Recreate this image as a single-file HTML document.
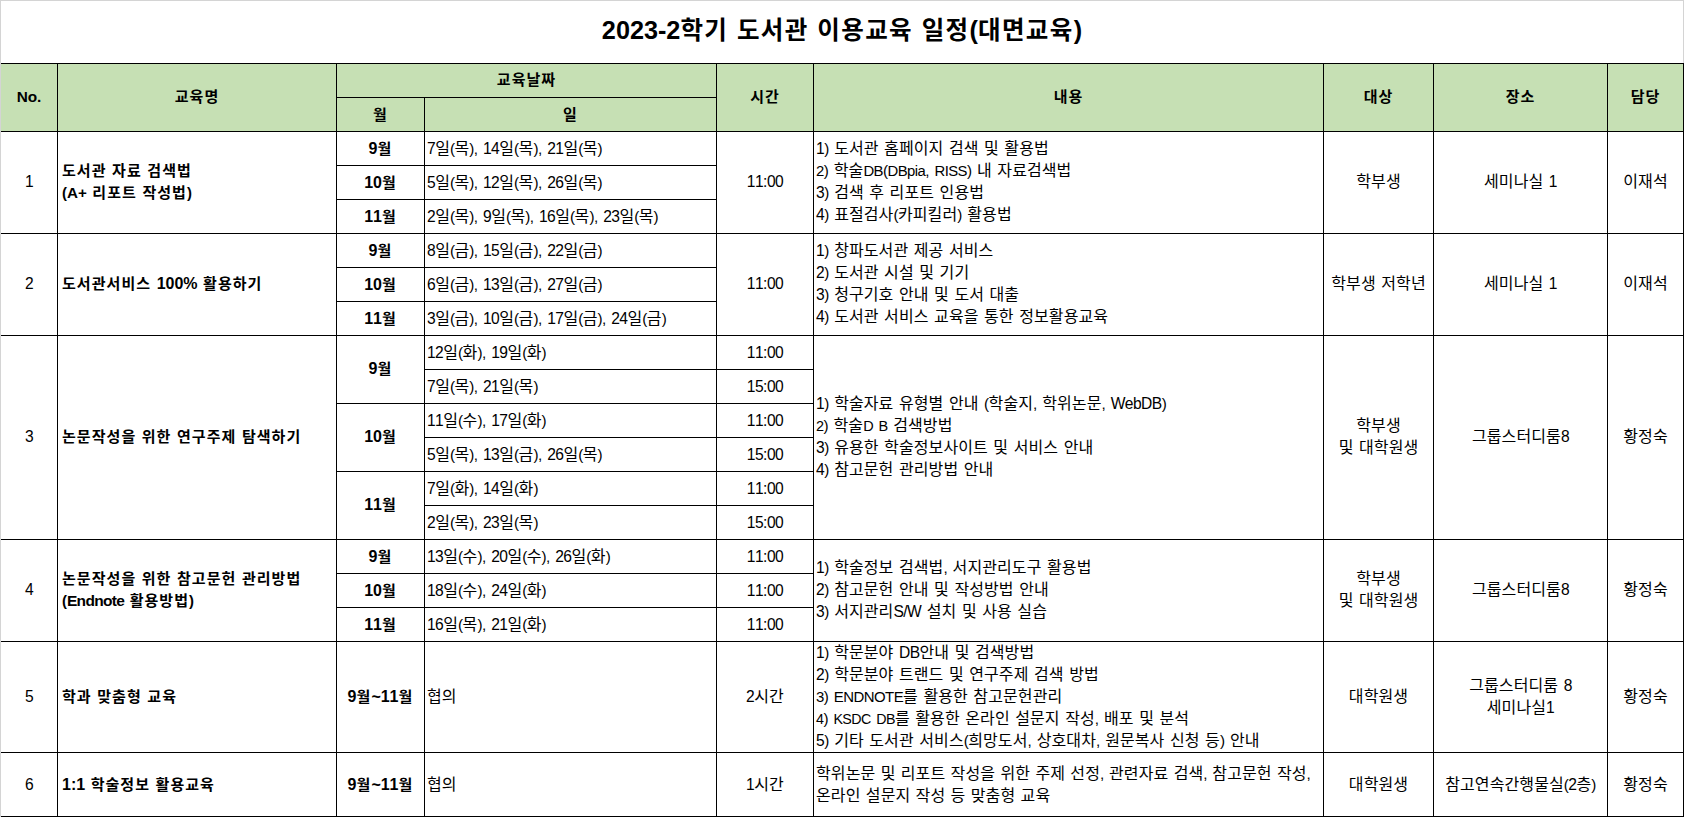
<!DOCTYPE html>
<html lang="ko">
<head>
<meta charset="utf-8">
<title>2023-2학기 도서관 이용교육 일정(대면교육)</title>
<style>
html,body{margin:0;padding:0;background:#fff;}
body{width:1684px;height:817px;position:relative;overflow:hidden;
 font-family:"Liberation Sans","Noto Sans CJK KR",sans-serif;color:#000;font-size:16px;line-height:22px;font-kerning:none;letter-spacing:0.1px;}
.l{position:absolute;background:#000;}
.g{position:absolute;background:#d4d4d4;}
.hd{position:absolute;background:#c6e0b4;}
.c{position:absolute;display:flex;align-items:center;justify-content:center;text-align:center;white-space:nowrap;box-sizing:border-box;}
.c.lf{justify-content:flex-start;text-align:left;padding-left:4px;}
.b{font-weight:bold;font-size:15px;letter-spacing:1.05px;--ws:0.3px;}
.n{font-size:calc(var(--n,0.975)*1em);letter-spacing:var(--ls,-0.55px);line-height:0;}
.p{font-size:calc(var(--p,0.95)*1em);letter-spacing:var(--pls,-0.55px);line-height:0;}
.b{--n:1.067;--p:0.99;--ls:0;--pls:0;}
.t{--n:1.03;--p:1.03;--ls:0;--pls:0;}
span{word-spacing:var(--ws,0.06em);}
.t{position:absolute;left:0;width:1684px;top:0;height:61px;display:flex;align-items:center;justify-content:center;
 font-weight:bold;font-size:24.5px;line-height:30px;white-space:nowrap;letter-spacing:1.4px;--ws:0.4px;}
</style>
</head>
<body>
<div class="hd" style="left:1px;top:64px;width:1682px;height:67px"></div>
<div class="t" aria-label="2023-2학기 도서관 이용교육 일정(대면교육)"><span><span class="n">2023-2</span>학기 도서관 이용교육 일정<span class="p">(</span>대면교육<span class="p">)</span></span></div>
<div class="l" style="left:1px;top:63px;width:1683px;height:1px"></div>
<div class="l" style="left:1px;top:131px;width:1683px;height:1px"></div>
<div class="l" style="left:1px;top:233px;width:1683px;height:1px"></div>
<div class="l" style="left:1px;top:335px;width:1683px;height:1px"></div>
<div class="l" style="left:1px;top:539px;width:1683px;height:1px"></div>
<div class="l" style="left:1px;top:641px;width:1683px;height:1px"></div>
<div class="l" style="left:1px;top:752px;width:1683px;height:1px"></div>
<div class="l" style="left:1px;top:816px;width:1683px;height:1px"></div>
<div class="l" style="left:336px;top:97px;width:380px;height:1px"></div>
<div class="l" style="left:57px;top:63px;width:1px;height:754px"></div>
<div class="l" style="left:336px;top:63px;width:1px;height:754px"></div>
<div class="l" style="left:716px;top:63px;width:1px;height:754px"></div>
<div class="l" style="left:813px;top:63px;width:1px;height:754px"></div>
<div class="l" style="left:1323px;top:63px;width:1px;height:754px"></div>
<div class="l" style="left:1433px;top:63px;width:1px;height:754px"></div>
<div class="l" style="left:1607px;top:63px;width:1px;height:754px"></div>
<div class="l" style="left:1683px;top:63px;width:1px;height:754px"></div>
<div class="l" style="left:424px;top:97px;width:1px;height:720px"></div>
<div class="l" style="left:336px;top:165px;width:380px;height:1px"></div>
<div class="l" style="left:336px;top:199px;width:380px;height:1px"></div>
<div class="l" style="left:336px;top:267px;width:380px;height:1px"></div>
<div class="l" style="left:336px;top:301px;width:380px;height:1px"></div>
<div class="l" style="left:336px;top:573px;width:380px;height:1px"></div>
<div class="l" style="left:336px;top:607px;width:380px;height:1px"></div>
<div class="l" style="left:424px;top:369px;width:389px;height:1px"></div>
<div class="l" style="left:336px;top:403px;width:477px;height:1px"></div>
<div class="l" style="left:424px;top:437px;width:389px;height:1px"></div>
<div class="l" style="left:336px;top:471px;width:477px;height:1px"></div>
<div class="l" style="left:424px;top:505px;width:389px;height:1px"></div>
<div class="l" style="left:716px;top:573px;width:97px;height:1px"></div>
<div class="l" style="left:716px;top:607px;width:97px;height:1px"></div>
<div class="c b" style="left:1px;top:63px;width:56px;height:67px;--n:1.024;" aria-label="No."><span><span class="n">No.</span></span></div>
<div class="c b" style="left:58px;top:63px;width:278px;height:67px;" aria-label="교육명"><span>교육명</span></div>
<div class="c b" style="left:337px;top:63px;width:379px;height:33px;" aria-label="교육날짜"><span>교육날짜</span></div>
<div class="c b" style="left:337px;top:98px;width:87px;height:33px;" aria-label="월"><span>월</span></div>
<div class="c b" style="left:425px;top:98px;width:291px;height:33px;" aria-label="일"><span>일</span></div>
<div class="c b" style="left:717px;top:63px;width:96px;height:67px;" aria-label="시간"><span>시간</span></div>
<div class="c b" style="left:814px;top:63px;width:509px;height:67px;" aria-label="내용"><span>내용</span></div>
<div class="c b" style="left:1324px;top:63px;width:109px;height:67px;" aria-label="대상"><span>대상</span></div>
<div class="c b" style="left:1434px;top:63px;width:173px;height:67px;" aria-label="장소"><span>장소</span></div>
<div class="c b" style="left:1608px;top:63px;width:75px;height:67px;" aria-label="담당"><span>담당</span></div>
<div class="c" style="left:1px;top:131px;width:56px;height:101px;" aria-label="1"><span><span class="n">1</span></span></div>
<div class="c lf b" style="left:58px;top:131px;width:278px;height:101px;" aria-label="도서관 자료 검색법 (A+ 리포트 작성법)"><span>도서관 자료 검색법<br><span style="--n:1.013"><span class="p">(</span><span class="n">A+</span> 리포트 작성법<span class="p">)</span></span></span></div>
<div class="c lf" style="left:814px;top:131px;width:509px;height:101px;padding-left:2px;" aria-label="1) 도서관 홈페이지 검색 및 활용법 2) 학술DB(DBpia, RISS) 내 자료검색법 3) 검색 후 리포트 인용법 4) 표절검사(카피킬러) 활용법"><span><span class="n">1</span><span class="p">)</span> 도서관 홈페이지 검색 및 활용법<br><span style="--n:0.93"><span class="n">2</span><span class="p">)</span> 학술<span class="n">DB</span><span class="p">(</span><span class="n">DBpia</span><span class="p">,</span> <span class="n">RISS</span><span class="p">)</span> 내 자료검색법</span><br><span class="n">3</span><span class="p">)</span> 검색 후 리포트 인용법<br><span class="n">4</span><span class="p">)</span> 표절검사<span class="p">(</span>카피킬러<span class="p">)</span> 활용법</span></div>
<div class="c" style="left:1324px;top:131px;width:109px;height:101px;" aria-label="학부생"><span>학부생</span></div>
<div class="c" style="left:1434px;top:131px;width:173px;height:101px;" aria-label="세미나실 1"><span>세미나실 <span class="n">1</span></span></div>
<div class="c" style="left:1608px;top:131px;width:75px;height:101px;" aria-label="이재석"><span>이재석</span></div>
<div class="c" style="left:1px;top:233px;width:56px;height:101px;" aria-label="2"><span><span class="n">2</span></span></div>
<div class="c lf b" style="left:58px;top:233px;width:278px;height:101px;" aria-label="도서관서비스 100% 활용하기"><span>도서관서비스 <span class="n">100%</span> 활용하기</span></div>
<div class="c lf" style="left:814px;top:233px;width:509px;height:101px;padding-left:2px;" aria-label="1) 창파도서관 제공 서비스 2) 도서관 시설 및 기기 3) 청구기호 안내 및 도서 대출 4) 도서관 서비스 교육을 통한 정보활용교육"><span><span class="n">1</span><span class="p">)</span> 창파도서관 제공 서비스<br><span class="n">2</span><span class="p">)</span> 도서관 시설 및 기기<br><span class="n">3</span><span class="p">)</span> 청구기호 안내 및 도서 대출<br><span class="n">4</span><span class="p">)</span> 도서관 서비스 교육을 통한 정보활용교육</span></div>
<div class="c" style="left:1324px;top:233px;width:109px;height:101px;" aria-label="학부생 저학년"><span>학부생 저학년</span></div>
<div class="c" style="left:1434px;top:233px;width:173px;height:101px;" aria-label="세미나실 1"><span>세미나실 <span class="n">1</span></span></div>
<div class="c" style="left:1608px;top:233px;width:75px;height:101px;" aria-label="이재석"><span>이재석</span></div>
<div class="c" style="left:1px;top:335px;width:56px;height:203px;" aria-label="3"><span><span class="n">3</span></span></div>
<div class="c lf b" style="left:58px;top:335px;width:278px;height:203px;" aria-label="논문작성을 위한 연구주제 탐색하기"><span>논문작성을 위한 연구주제 탐색하기</span></div>
<div class="c lf" style="left:814px;top:335px;width:509px;height:203px;padding-left:2px;" aria-label="1) 학술자료 유형별 안내 (학술지, 학위논문, WebDB) 2) 학술D B 검색방법 3) 유용한 학술정보사이트 및 서비스 안내 4) 참고문헌 관리방법 안내"><span><span class="n">1</span><span class="p">)</span> 학술자료 유형별 안내 <span class="p">(</span>학술지<span class="p">,</span> 학위논문<span class="p">,</span> <span class="n">WebDB</span><span class="p">)</span><br><span style="--n:0.905"><span class="n">2</span><span class="p">)</span> 학술<span class="n">D</span> <span class="n">B</span> 검색방법</span><br><span class="n">3</span><span class="p">)</span> 유용한 학술정보사이트 및 서비스 안내<br><span class="n">4</span><span class="p">)</span> 참고문헌 관리방법 안내</span></div>
<div class="c" style="left:1324px;top:335px;width:109px;height:203px;" aria-label="학부생 및 대학원생"><span>학부생<br>및 대학원생</span></div>
<div class="c" style="left:1434px;top:335px;width:173px;height:203px;" aria-label="그룹스터디룸8"><span>그룹스터디룸<span class="n">8</span></span></div>
<div class="c" style="left:1608px;top:335px;width:75px;height:203px;" aria-label="황정숙"><span>황정숙</span></div>
<div class="c" style="left:1px;top:539px;width:56px;height:101px;" aria-label="4"><span><span class="n">4</span></span></div>
<div class="c lf b" style="left:58px;top:539px;width:278px;height:101px;" aria-label="논문작성을 위한 참고문헌 관리방법 (Endnote 활용방법)"><span>논문작성을 위한 참고문헌 관리방법<br><span style="--n:1.035;--ls:-0.7px"><span class="p">(</span><span class="n">Endnote</span> 활용방법<span class="p">)</span></span></span></div>
<div class="c lf" style="left:814px;top:539px;width:509px;height:101px;padding-left:2px;" aria-label="1) 학술정보 검색법, 서지관리도구 활용법 2) 참고문헌 안내 및 작성방법 안내 3) 서지관리S/W 설치 및 사용 실습"><span><span class="n">1</span><span class="p">)</span> 학술정보 검색법<span class="p">,</span> 서지관리도구 활용법<br><span class="n">2</span><span class="p">)</span> 참고문헌 안내 및 작성방법 안내<br><span class="n">3</span><span class="p">)</span> 서지관리<span class="n">S/W</span> 설치 및 사용 실습</span></div>
<div class="c" style="left:1324px;top:539px;width:109px;height:101px;" aria-label="학부생 및 대학원생"><span>학부생<br>및 대학원생</span></div>
<div class="c" style="left:1434px;top:539px;width:173px;height:101px;" aria-label="그룹스터디룸8"><span>그룹스터디룸<span class="n">8</span></span></div>
<div class="c" style="left:1608px;top:539px;width:75px;height:101px;" aria-label="황정숙"><span>황정숙</span></div>
<div class="c" style="left:1px;top:642px;width:56px;height:110px;" aria-label="5"><span><span class="n">5</span></span></div>
<div class="c lf b" style="left:58px;top:642px;width:278px;height:110px;" aria-label="학과 맞춤형 교육"><span>학과 맞춤형 교육</span></div>
<div class="c lf" style="left:814px;top:642px;width:509px;height:110px;padding-left:2px;" aria-label="1) 학문분야 DB안내 및 검색방법 2) 학문분야 트랜드 및 연구주제 검색 방법 3) ENDNOTE를 활용한 참고문헌관리 4) KSDC DB를 활용한 온라인 설문지 작성, 배포 및 분석 5) 기타 도서관 서비스(희망도서, 상호대차, 원문복사 신청 등) 안내"><span><span class="n">1</span><span class="p">)</span> 학문분야 <span class="n">DB</span>안내 및 검색방법<br><span class="n">2</span><span class="p">)</span> 학문분야 트랜드 및 연구주제 검색 방법<br><span style="--n:0.9355"><span class="n">3</span><span class="p">)</span> <span class="n">ENDNOTE</span>를 활용한 참고문헌관리</span><br><span style="--n:0.89"><span class="n">4</span><span class="p">)</span> <span class="n">KSDC</span> <span class="n">DB</span>를 활용한 온라인 설문지 작성<span class="p">,</span> 배포 및 분석</span><br><span class="n">5</span><span class="p">)</span> 기타 도서관 서비스<span class="p">(</span>희망도서<span class="p">,</span> 상호대차<span class="p">,</span> 원문복사 신청 등<span class="p">)</span> 안내</span></div>
<div class="c" style="left:1324px;top:642px;width:109px;height:110px;" aria-label="대학원생"><span>대학원생</span></div>
<div class="c" style="left:1434px;top:642px;width:173px;height:110px;" aria-label="그룹스터디룸 8 세미나실1"><span>그룹스터디룸 <span class="n">8</span><br>세미나실<span class="n">1</span></span></div>
<div class="c" style="left:1608px;top:642px;width:75px;height:110px;" aria-label="황정숙"><span>황정숙</span></div>
<div class="c" style="left:1px;top:753px;width:56px;height:63px;" aria-label="6"><span><span class="n">6</span></span></div>
<div class="c lf b" style="left:58px;top:753px;width:278px;height:63px;" aria-label="1:1 학술정보 활용교육"><span><span class="n">1:1</span> 학술정보 활용교육</span></div>
<div class="c lf" style="left:814px;top:753px;width:509px;height:63px;padding-left:2px;--ws:0.8px;" aria-label="학위논문 및 리포트 작성을 위한 주제 선정, 관련자료 검색, 참고문헌 작성, 온라인 설문지 작성 등 맞춤형 교육"><span>학위논문 및 리포트 작성을 위한 주제 선정<span class="p">,</span> 관련자료 검색<span class="p">,</span> 참고문헌 작성<span class="p">,</span><br>온라인 설문지 작성 등 맞춤형 교육</span></div>
<div class="c" style="left:1324px;top:753px;width:109px;height:63px;" aria-label="대학원생"><span>대학원생</span></div>
<div class="c" style="left:1434px;top:753px;width:173px;height:63px;" aria-label="참고연속간행물실(2층)"><span>참고연속간행물실<span class="p">(</span><span class="n">2</span>층<span class="p">)</span></span></div>
<div class="c" style="left:1608px;top:753px;width:75px;height:63px;" aria-label="황정숙"><span>황정숙</span></div>
<div class="c b" style="left:337px;top:132px;width:87px;height:33px;" aria-label="9월"><span><span class="n">9</span>월</span></div>
<div class="c lf" style="left:425px;top:132px;width:291px;height:33px;padding-left:2px;" aria-label="7일(목), 14일(목), 21일(목)"><span><span class="n">7</span>일<span class="p">(</span>목<span class="p">),</span> <span class="n">14</span>일<span class="p">(</span>목<span class="p">),</span> <span class="n">21</span>일<span class="p">(</span>목<span class="p">)</span></span></div>
<div class="c b" style="left:337px;top:166px;width:87px;height:33px;" aria-label="10월"><span><span class="n">10</span>월</span></div>
<div class="c lf" style="left:425px;top:166px;width:291px;height:33px;padding-left:2px;" aria-label="5일(목), 12일(목), 26일(목)"><span><span class="n">5</span>일<span class="p">(</span>목<span class="p">),</span> <span class="n">12</span>일<span class="p">(</span>목<span class="p">),</span> <span class="n">26</span>일<span class="p">(</span>목<span class="p">)</span></span></div>
<div class="c b" style="left:337px;top:200px;width:87px;height:33px;" aria-label="11월"><span><span class="n">11</span>월</span></div>
<div class="c lf" style="left:425px;top:200px;width:291px;height:33px;padding-left:2px;" aria-label="2일(목), 9일(목), 16일(목), 23일(목)"><span><span class="n">2</span>일<span class="p">(</span>목<span class="p">),</span> <span class="n">9</span>일<span class="p">(</span>목<span class="p">),</span> <span class="n">16</span>일<span class="p">(</span>목<span class="p">),</span> <span class="n">23</span>일<span class="p">(</span>목<span class="p">)</span></span></div>
<div class="c" style="left:717px;top:131px;width:96px;height:101px;" aria-label="11:00"><span><span class="n">11:00</span></span></div>
<div class="c b" style="left:337px;top:234px;width:87px;height:33px;" aria-label="9월"><span><span class="n">9</span>월</span></div>
<div class="c lf" style="left:425px;top:234px;width:291px;height:33px;padding-left:2px;" aria-label="8일(금), 15일(금), 22일(금)"><span><span class="n">8</span>일<span class="p">(</span>금<span class="p">),</span> <span class="n">15</span>일<span class="p">(</span>금<span class="p">),</span> <span class="n">22</span>일<span class="p">(</span>금<span class="p">)</span></span></div>
<div class="c b" style="left:337px;top:268px;width:87px;height:33px;" aria-label="10월"><span><span class="n">10</span>월</span></div>
<div class="c lf" style="left:425px;top:268px;width:291px;height:33px;padding-left:2px;" aria-label="6일(금), 13일(금), 27일(금)"><span><span class="n">6</span>일<span class="p">(</span>금<span class="p">),</span> <span class="n">13</span>일<span class="p">(</span>금<span class="p">),</span> <span class="n">27</span>일<span class="p">(</span>금<span class="p">)</span></span></div>
<div class="c b" style="left:337px;top:302px;width:87px;height:33px;" aria-label="11월"><span><span class="n">11</span>월</span></div>
<div class="c lf" style="left:425px;top:302px;width:291px;height:33px;padding-left:2px;" aria-label="3일(금), 10일(금), 17일(금), 24일(금)"><span><span class="n">3</span>일<span class="p">(</span>금<span class="p">),</span> <span class="n">10</span>일<span class="p">(</span>금<span class="p">),</span> <span class="n">17</span>일<span class="p">(</span>금<span class="p">),</span> <span class="n">24</span>일<span class="p">(</span>금<span class="p">)</span></span></div>
<div class="c" style="left:717px;top:233px;width:96px;height:101px;" aria-label="11:00"><span><span class="n">11:00</span></span></div>
<div class="c b" style="left:337px;top:335px;width:87px;height:67px;" aria-label="9월"><span><span class="n">9</span>월</span></div>
<div class="c b" style="left:337px;top:403px;width:87px;height:67px;" aria-label="10월"><span><span class="n">10</span>월</span></div>
<div class="c b" style="left:337px;top:471px;width:87px;height:67px;" aria-label="11월"><span><span class="n">11</span>월</span></div>
<div class="c lf" style="left:425px;top:336px;width:291px;height:33px;padding-left:2px;" aria-label="12일(화), 19일(화)"><span><span class="n">12</span>일<span class="p">(</span>화<span class="p">),</span> <span class="n">19</span>일<span class="p">(</span>화<span class="p">)</span></span></div>
<div class="c" style="left:717px;top:336px;width:96px;height:33px;" aria-label="11:00"><span><span class="n">11:00</span></span></div>
<div class="c lf" style="left:425px;top:370px;width:291px;height:33px;padding-left:2px;" aria-label="7일(목), 21일(목)"><span><span class="n">7</span>일<span class="p">(</span>목<span class="p">),</span> <span class="n">21</span>일<span class="p">(</span>목<span class="p">)</span></span></div>
<div class="c" style="left:717px;top:370px;width:96px;height:33px;" aria-label="15:00"><span><span class="n">15:00</span></span></div>
<div class="c lf" style="left:425px;top:404px;width:291px;height:33px;padding-left:2px;" aria-label="11일(수), 17일(화)"><span><span class="n">11</span>일<span class="p">(</span>수<span class="p">),</span> <span class="n">17</span>일<span class="p">(</span>화<span class="p">)</span></span></div>
<div class="c" style="left:717px;top:404px;width:96px;height:33px;" aria-label="11:00"><span><span class="n">11:00</span></span></div>
<div class="c lf" style="left:425px;top:438px;width:291px;height:33px;padding-left:2px;" aria-label="5일(목), 13일(금), 26일(목)"><span><span class="n">5</span>일<span class="p">(</span>목<span class="p">),</span> <span class="n">13</span>일<span class="p">(</span>금<span class="p">),</span> <span class="n">26</span>일<span class="p">(</span>목<span class="p">)</span></span></div>
<div class="c" style="left:717px;top:438px;width:96px;height:33px;" aria-label="15:00"><span><span class="n">15:00</span></span></div>
<div class="c lf" style="left:425px;top:472px;width:291px;height:33px;padding-left:2px;" aria-label="7일(화), 14일(화)"><span><span class="n">7</span>일<span class="p">(</span>화<span class="p">),</span> <span class="n">14</span>일<span class="p">(</span>화<span class="p">)</span></span></div>
<div class="c" style="left:717px;top:472px;width:96px;height:33px;" aria-label="11:00"><span><span class="n">11:00</span></span></div>
<div class="c lf" style="left:425px;top:506px;width:291px;height:33px;padding-left:2px;" aria-label="2일(목), 23일(목)"><span><span class="n">2</span>일<span class="p">(</span>목<span class="p">),</span> <span class="n">23</span>일<span class="p">(</span>목<span class="p">)</span></span></div>
<div class="c" style="left:717px;top:506px;width:96px;height:33px;" aria-label="15:00"><span><span class="n">15:00</span></span></div>
<div class="c b" style="left:337px;top:540px;width:87px;height:33px;" aria-label="9월"><span><span class="n">9</span>월</span></div>
<div class="c lf" style="left:425px;top:540px;width:291px;height:33px;padding-left:2px;" aria-label="13일(수), 20일(수), 26일(화)"><span><span class="n">13</span>일<span class="p">(</span>수<span class="p">),</span> <span class="n">20</span>일<span class="p">(</span>수<span class="p">),</span> <span class="n">26</span>일<span class="p">(</span>화<span class="p">)</span></span></div>
<div class="c" style="left:717px;top:540px;width:96px;height:33px;" aria-label="11:00"><span><span class="n">11:00</span></span></div>
<div class="c b" style="left:337px;top:574px;width:87px;height:33px;" aria-label="10월"><span><span class="n">10</span>월</span></div>
<div class="c lf" style="left:425px;top:574px;width:291px;height:33px;padding-left:2px;" aria-label="18일(수), 24일(화)"><span><span class="n">18</span>일<span class="p">(</span>수<span class="p">),</span> <span class="n">24</span>일<span class="p">(</span>화<span class="p">)</span></span></div>
<div class="c" style="left:717px;top:574px;width:96px;height:33px;" aria-label="11:00"><span><span class="n">11:00</span></span></div>
<div class="c b" style="left:337px;top:608px;width:87px;height:33px;" aria-label="11월"><span><span class="n">11</span>월</span></div>
<div class="c lf" style="left:425px;top:608px;width:291px;height:33px;padding-left:2px;" aria-label="16일(목), 21일(화)"><span><span class="n">16</span>일<span class="p">(</span>목<span class="p">),</span> <span class="n">21</span>일<span class="p">(</span>화<span class="p">)</span></span></div>
<div class="c" style="left:717px;top:608px;width:96px;height:33px;" aria-label="11:00"><span><span class="n">11:00</span></span></div>
<div class="c b" style="left:337px;top:642px;width:87px;height:110px;" aria-label="9월~11월"><span><span class="n">9</span>월<span class="n">~11</span>월</span></div>
<div class="c lf" style="left:425px;top:642px;width:291px;height:110px;padding-left:2px;" aria-label="협의"><span>협의</span></div>
<div class="c" style="left:717px;top:642px;width:96px;height:110px;" aria-label="2시간"><span><span class="n">2</span>시간</span></div>
<div class="c b" style="left:337px;top:753px;width:87px;height:63px;" aria-label="9월~11월"><span><span class="n">9</span>월<span class="n">~11</span>월</span></div>
<div class="c lf" style="left:425px;top:753px;width:291px;height:63px;padding-left:2px;" aria-label="협의"><span>협의</span></div>
<div class="c" style="left:717px;top:753px;width:96px;height:63px;" aria-label="1시간"><span><span class="n">1</span>시간</span></div>
<div class="g" style="left:0;top:0;width:1684px;height:1px"></div>
<div class="g" style="left:0;top:0;width:1px;height:817px"></div>
<div class="g" style="left:1683px;top:0;width:1px;height:63px"></div>
</body>
</html>
